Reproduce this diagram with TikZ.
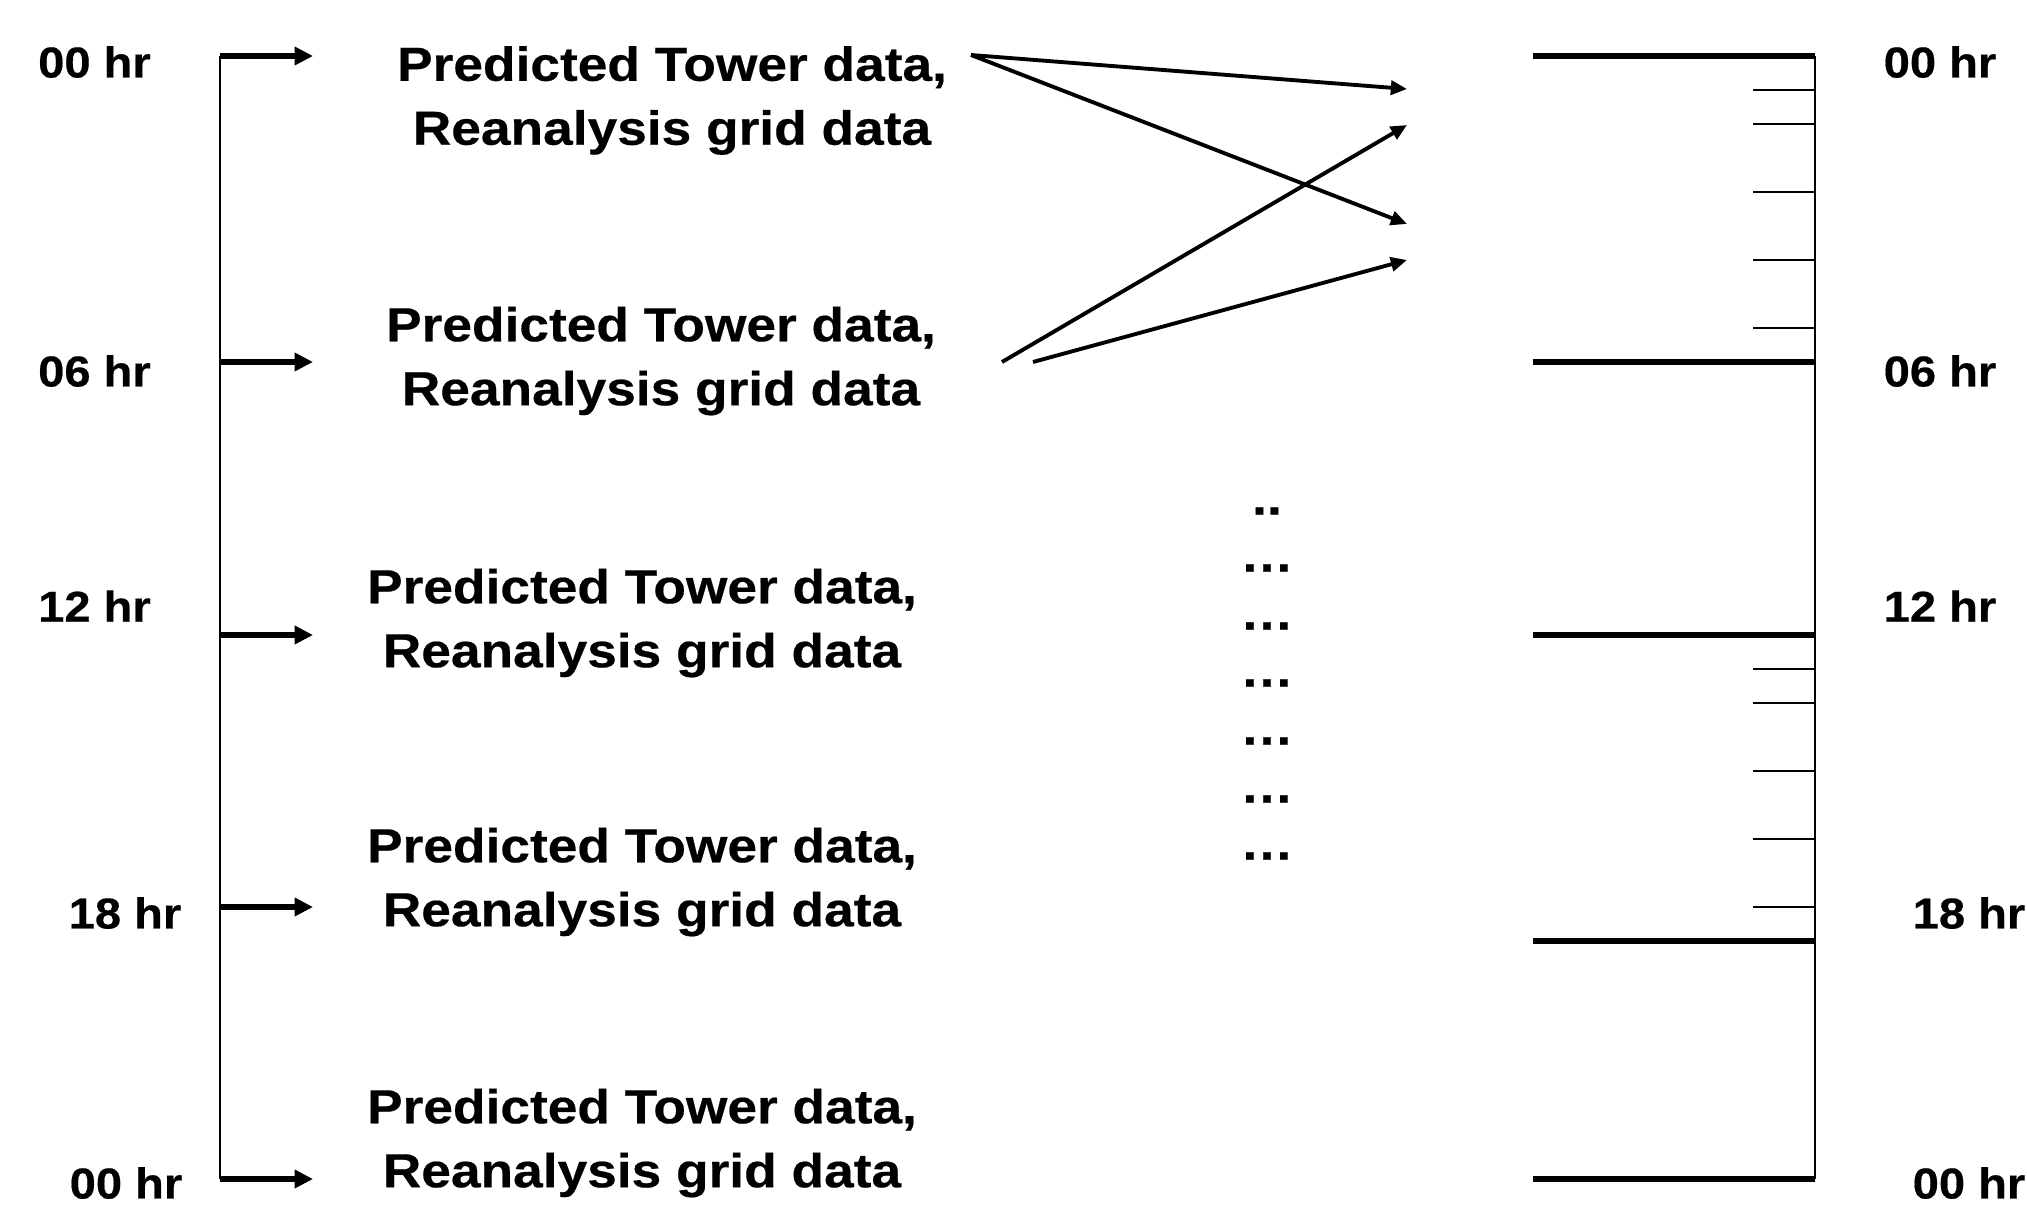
\documentclass[tikz,border=0pt]{standalone}
\usepackage{fontspec}
\setmainfont{Liberation Sans}[FakeStretch=1.09,FakeBold=0.4]
\newfontfamily\blockfont{Liberation Sans}[FakeStretch=1.115,FakeBold=0.4]
\usetikzlibrary{arrows.meta}

\begin{document}
\begin{tikzpicture}[y=-1cm]

\useasboundingbox (0,0) rectangle (20.27,12.07);

\tikzstyle{every node} = [inner sep=0pt, font=\blockfont\bfseries\fontsize{13.6}{18.2}\selectfont]
\tikzstyle{hour} = [font=\bfseries\fontsize{12.3}{14}\selectfont]
\tikzstyle{datablock} = [align=center]
\tikzstyle{inarrow} = [line width=1.6pt, -{Triangle[length=5.2pt,width=5pt]}]
\tikzstyle{maparrow} = [line width=1.1pt, -{Triangle[length=4.6pt,width=4pt]}]
\tikzstyle{hrline} = [line width=1.7pt]
\tikzstyle{subline} = [line width=0.45pt]

\node[hour] (l00) at (0.945,0.62) {00 hr};
\node[hour] (l06) at (0.945,3.71) {06 hr};
\node[hour] (l12) at (0.945,6.06) {12 hr};
\node[hour] (l18) at (1.25,9.13) {18 hr};
\node[hour] (l24) at (1.26,11.83) {00 hr};

\node[hour] (r00) at (19.40,0.62) {00 hr};
\node[hour] (r06) at (19.40,3.71) {06 hr};
\node[hour] (r12) at (19.40,6.06) {12 hr};
\node[hour] (r18) at (19.69,9.13) {18 hr};
\node[hour] (r24) at (19.69,11.83) {00 hr};

\node[datablock] (d00) at (6.72,1.005) {Predicted Tower data,\\Reanalysis grid data};
\node[datablock] (d06) at (6.61,3.61) {Predicted Tower data,\\Reanalysis grid data};
\node[datablock] (d12) at (6.42,6.23) {Predicted Tower data,\\Reanalysis grid data};
\node[datablock] (d18) at (6.42,8.82) {Predicted Tower data,\\Reanalysis grid data};
\node[datablock] (d24) at (6.42,11.43) {Predicted Tower data,\\Reanalysis grid data};

\node (gap) at (12.67,5.11) {..};
\foreach \y [count=\i] in {5.68,6.26,6.83,7.41,7.99,8.56}
  \node (gap\i) at (12.67,\y) {…};

\coordinate (s00) at (2.20,0.56);
\coordinate (s06) at (2.20,3.62);
\coordinate (s12) at (2.20,6.35);
\coordinate (s18) at (2.20,9.07);
\coordinate (s24) at (2.20,11.79);
\coordinate (e00) at (3.13,0.56);
\coordinate (e06) at (3.13,3.62);
\coordinate (e12) at (3.13,6.35);
\coordinate (e18) at (3.13,9.07);
\coordinate (e24) at (3.13,11.79);

\coordinate (o00) at (9.71,0.55);
\coordinate (o06a) at (10.02,3.62);
\coordinate (o06b) at (10.33,3.62);
\coordinate (t1) at (14.07,0.89);
\coordinate (t2) at (14.07,1.25);
\coordinate (t3) at (14.07,2.24);
\coordinate (t4) at (14.07,2.60);

\draw[line width=0.65pt] (s00) -- (s24);
\draw[inarrow] (s00) -- (e00);
\draw[inarrow] (s06) -- (e06);
\draw[inarrow] (s12) -- (e12);
\draw[inarrow] (s18) -- (e18);
\draw[inarrow] (s24) -- (e24);

\draw[maparrow] (o00) -- (t1);
\draw[maparrow] (o00) -- (t3);
\draw[maparrow] (o06a) -- (t2);
\draw[maparrow] (o06b) -- (t4);

\draw[line width=0.65pt] (18.15,0.56) -- (18.15,11.79);
\foreach \y in {0.56,3.62,6.35,9.41,11.79}
  \draw[hrline] (15.33,\y) -- (18.15,\y);
\foreach \k in {1,2,4,6,8} {
  \draw[subline] (17.53,0.56+0.34*\k) -- (18.15,0.56+0.34*\k);
  \draw[subline] (17.53,6.35+0.34*\k) -- (18.15,6.35+0.34*\k);
}
\end{tikzpicture}
\end{document}
